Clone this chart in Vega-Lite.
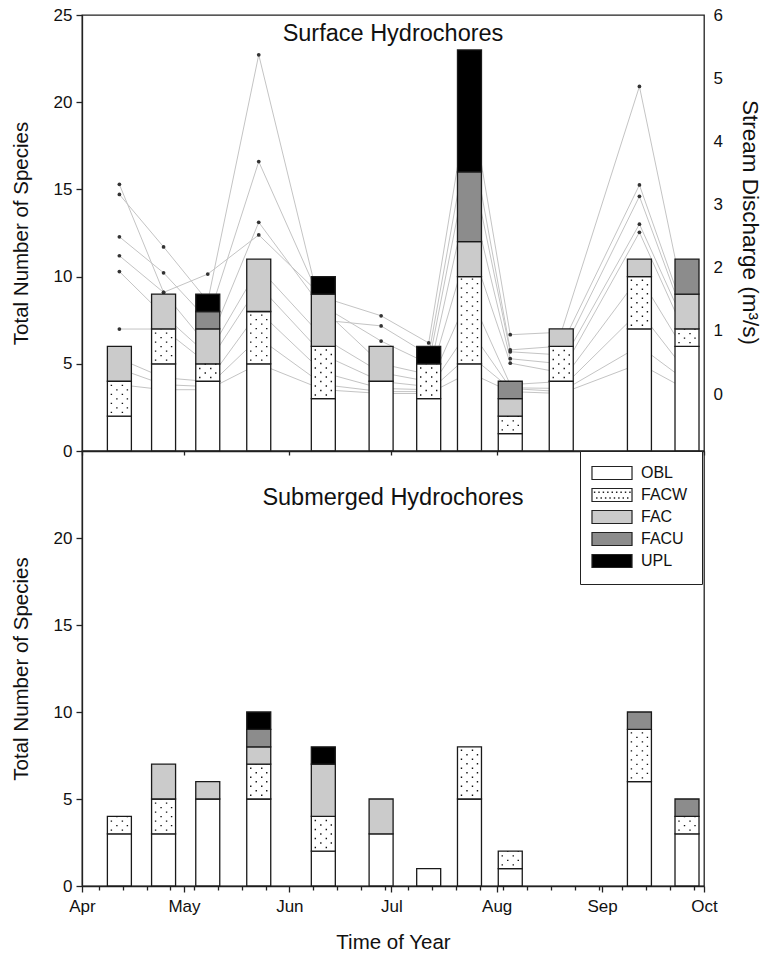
{
  "$schema": "https://vega.github.io/schema/vega-lite/v6.json",
  "padding": {"left": 10, "top": 5, "right": 5, "bottom": 8},
  "bounds": "flush",
  "config": {
    "view": {"stroke": "#222", "strokeWidth": 1.3},
    "font": "Liberation Sans",
    "axis": {"labelFont": "Liberation Sans", "titleFont": "Liberation Sans", "labelFontSize": 17, "titleFontSize": 20.5, "titleFontWeight": "normal", "labelColor": "#111", "titleColor": "#111", "domainColor": "#222", "tickColor": "#222", "grid": false, "domainWidth": 1.3, "tickWidth": 1.3, "labelOverlap": false}
  },
  "datasets": {
    "surface": [
      {"date":"2003/04/12","cls":"OBL","n":2},{"date":"2003/04/12","cls":"FACW","n":2},{"date":"2003/04/12","cls":"FAC","n":2},
      {"date":"2003/04/25","cls":"OBL","n":5},{"date":"2003/04/25","cls":"FACW","n":2},{"date":"2003/04/25","cls":"FAC","n":2},
      {"date":"2003/05/08","cls":"OBL","n":4},{"date":"2003/05/08","cls":"FACW","n":1},{"date":"2003/05/08","cls":"FAC","n":2},{"date":"2003/05/08","cls":"FACU","n":1},{"date":"2003/05/08","cls":"UPL","n":1},
      {"date":"2003/05/23","cls":"OBL","n":5},{"date":"2003/05/23","cls":"FACW","n":3},{"date":"2003/05/23","cls":"FAC","n":3},
      {"date":"2003/06/11","cls":"OBL","n":3},{"date":"2003/06/11","cls":"FACW","n":3},{"date":"2003/06/11","cls":"FAC","n":3},{"date":"2003/06/11","cls":"UPL","n":1},
      {"date":"2003/06/28","cls":"OBL","n":4},{"date":"2003/06/28","cls":"FAC","n":2},
      {"date":"2003/07/12","cls":"OBL","n":3},{"date":"2003/07/12","cls":"FACW","n":2},{"date":"2003/07/12","cls":"UPL","n":1},
      {"date":"2003/07/24","cls":"OBL","n":5},{"date":"2003/07/24","cls":"FACW","n":5},{"date":"2003/07/24","cls":"FAC","n":2},{"date":"2003/07/24","cls":"FACU","n":4},{"date":"2003/07/24","cls":"UPL","n":7},
      {"date":"2003/08/05","cls":"OBL","n":1},{"date":"2003/08/05","cls":"FACW","n":1},{"date":"2003/08/05","cls":"FAC","n":1},{"date":"2003/08/05","cls":"FACU","n":1},
      {"date":"2003/08/20","cls":"OBL","n":4},{"date":"2003/08/20","cls":"FACW","n":2},{"date":"2003/08/20","cls":"FAC","n":1},
      {"date":"2003/09/12","cls":"OBL","n":7},{"date":"2003/09/12","cls":"FACW","n":3},{"date":"2003/09/12","cls":"FAC","n":1},
      {"date":"2003/09/26","cls":"OBL","n":6},{"date":"2003/09/26","cls":"FACW","n":1},{"date":"2003/09/26","cls":"FAC","n":2},{"date":"2003/09/26","cls":"FACU","n":2}
    ],
    "submerged": [
      {"date":"2003/04/12","cls":"OBL","n":3},{"date":"2003/04/12","cls":"FACW","n":1},
      {"date":"2003/04/25","cls":"OBL","n":3},{"date":"2003/04/25","cls":"FACW","n":2},{"date":"2003/04/25","cls":"FAC","n":2},
      {"date":"2003/05/08","cls":"OBL","n":5},{"date":"2003/05/08","cls":"FAC","n":1},
      {"date":"2003/05/23","cls":"OBL","n":5},{"date":"2003/05/23","cls":"FACW","n":2},{"date":"2003/05/23","cls":"FAC","n":1},{"date":"2003/05/23","cls":"FACU","n":1},{"date":"2003/05/23","cls":"UPL","n":1},
      {"date":"2003/06/11","cls":"OBL","n":2},{"date":"2003/06/11","cls":"FACW","n":2},{"date":"2003/06/11","cls":"FAC","n":3},{"date":"2003/06/11","cls":"UPL","n":1},
      {"date":"2003/06/28","cls":"OBL","n":3},{"date":"2003/06/28","cls":"FAC","n":2},
      {"date":"2003/07/12","cls":"OBL","n":1},
      {"date":"2003/07/24","cls":"OBL","n":5},{"date":"2003/07/24","cls":"FACW","n":3},
      {"date":"2003/08/05","cls":"OBL","n":1},{"date":"2003/08/05","cls":"FACW","n":1},
      {"date":"2003/09/12","cls":"OBL","n":6},{"date":"2003/09/12","cls":"FACW","n":3},{"date":"2003/09/12","cls":"FACU","n":1},
      {"date":"2003/09/26","cls":"OBL","n":3},{"date":"2003/09/26","cls":"FACW","n":1},{"date":"2003/09/26","cls":"FACU","n":1}
    ],
    "discharge": [
      {"date":"2003/04/12","site":"s1","q":3.32},{"date":"2003/04/25","site":"s1","q":1.61},{"date":"2003/05/08","site":"s1","q":1.90},{"date":"2003/05/23","site":"s1","q":2.52},{"date":"2003/06/11","site":"s1","q":1.53},{"date":"2003/06/28","site":"s1","q":1.24},{"date":"2003/07/12","site":"s1","q":0.81},{"date":"2003/07/24","site":"s1","q":4.76},{"date":"2003/08/05","site":"s1","q":0.94},{"date":"2003/08/20","site":"s1","q":0.98},{"date":"2003/09/12","site":"s1","q":4.87},{"date":"2003/09/26","site":"s1","q":1.25},
      {"date":"2003/04/12","site":"s2","q":3.16},{"date":"2003/04/25","site":"s2","q":2.33},{"date":"2003/05/08","site":"s2","q":1.47},{"date":"2003/05/23","site":"s2","q":5.37},{"date":"2003/06/11","site":"s2","q":1.17},{"date":"2003/06/28","site":"s2","q":1.08},{"date":"2003/07/12","site":"s2","q":0.62},{"date":"2003/07/24","site":"s2","q":4.21},{"date":"2003/08/05","site":"s2","q":0.70},{"date":"2003/08/20","site":"s2","q":0.76},{"date":"2003/09/12","site":"s2","q":3.31},{"date":"2003/09/26","site":"s2","q":1.17},
      {"date":"2003/04/12","site":"s3","q":2.49},{"date":"2003/04/25","site":"s3","q":1.92},{"date":"2003/05/08","site":"s3","q":1.17},{"date":"2003/05/23","site":"s3","q":3.68},{"date":"2003/06/11","site":"s3","q":1.39},{"date":"2003/06/28","site":"s3","q":0.84},{"date":"2003/07/12","site":"s3","q":0.48},{"date":"2003/07/24","site":"s3","q":3.79},{"date":"2003/08/05","site":"s3","q":0.67},{"date":"2003/08/20","site":"s3","q":0.62},{"date":"2003/09/12","site":"s3","q":3.13},{"date":"2003/09/26","site":"s3","q":1.09},
      {"date":"2003/04/12","site":"s4","q":2.19},{"date":"2003/04/25","site":"s4","q":1.61},{"date":"2003/05/08","site":"s4","q":0.76},{"date":"2003/05/23","site":"s4","q":2.72},{"date":"2003/06/11","site":"s4","q":1.34},{"date":"2003/06/28","site":"s4","q":0.48},{"date":"2003/07/12","site":"s4","q":0.31},{"date":"2003/07/24","site":"s4","q":3.24},{"date":"2003/08/05","site":"s4","q":0.56},{"date":"2003/08/20","site":"s4","q":0.48},{"date":"2003/09/12","site":"s4","q":2.69},{"date":"2003/09/26","site":"s4","q":1.03},
      {"date":"2003/04/12","site":"s5","q":1.94},{"date":"2003/04/25","site":"s5","q":1.25},{"date":"2003/05/08","site":"s5","q":0.62},{"date":"2003/05/23","site":"s5","q":2.00},{"date":"2003/06/11","site":"s5","q":0.89},{"date":"2003/06/28","site":"s5","q":0.34},{"date":"2003/07/12","site":"s5","q":0.20},{"date":"2003/07/24","site":"s5","q":2.41},{"date":"2003/08/05","site":"s5","q":0.49},{"date":"2003/08/20","site":"s5","q":0.34},{"date":"2003/09/12","site":"s5","q":2.56},{"date":"2003/09/26","site":"s5","q":0.89},
      {"date":"2003/04/12","site":"s6","q":1.03},{"date":"2003/04/25","site":"s6","q":1.03},{"date":"2003/05/08","site":"s6","q":0.48},{"date":"2003/05/23","site":"s6","q":1.72},{"date":"2003/06/11","site":"s6","q":0.62},{"date":"2003/06/28","site":"s6","q":0.20},{"date":"2003/07/12","site":"s6","q":0.12},{"date":"2003/07/24","site":"s6","q":1.58},{"date":"2003/08/05","site":"s6","q":0.15},{"date":"2003/08/20","site":"s6","q":0.20},{"date":"2003/09/12","site":"s6","q":1.86},{"date":"2003/09/26","site":"s6","q":0.62},
      {"date":"2003/04/12","site":"s7","q":0.56},{"date":"2003/04/25","site":"s7","q":0.26},{"date":"2003/05/08","site":"s7","q":0.20},{"date":"2003/05/23","site":"s7","q":1.31},{"date":"2003/06/11","site":"s7","q":0.34},{"date":"2003/06/28","site":"s7","q":0.09},{"date":"2003/07/12","site":"s7","q":0.07},{"date":"2003/07/24","site":"s7","q":1.03},{"date":"2003/08/05","site":"s7","q":0.10},{"date":"2003/08/20","site":"s7","q":0.09},{"date":"2003/09/12","site":"s7","q":1.31},{"date":"2003/09/26","site":"s7","q":0.34},
      {"date":"2003/04/12","site":"s8","q":0.40},{"date":"2003/04/25","site":"s8","q":0.15},{"date":"2003/05/08","site":"s8","q":0.12},{"date":"2003/05/23","site":"s8","q":0.89},{"date":"2003/06/11","site":"s8","q":0.15},{"date":"2003/06/28","site":"s8","q":0.04},{"date":"2003/07/12","site":"s8","q":0.04},{"date":"2003/07/24","site":"s8","q":0.62},{"date":"2003/08/05","site":"s8","q":0.09},{"date":"2003/08/20","site":"s8","q":0.04},{"date":"2003/09/12","site":"s8","q":0.76},{"date":"2003/09/26","site":"s8","q":0.20},
      {"date":"2003/04/12","site":"s9","q":0.15},{"date":"2003/04/25","site":"s9","q":0.07},{"date":"2003/05/08","site":"s9","q":0.07},{"date":"2003/05/23","site":"s9","q":0.48},{"date":"2003/06/11","site":"s9","q":0.07},{"date":"2003/06/28","site":"s9","q":0.01},{"date":"2003/07/12","site":"s9","q":0.01},{"date":"2003/07/24","site":"s9","q":0.34},{"date":"2003/08/05","site":"s9","q":0.04},{"date":"2003/08/20","site":"s9","q":0.01},{"date":"2003/09/12","site":"s9","q":0.48},{"date":"2003/09/26","site":"s9","q":0.07}
    ]
  },
  "spacing": 0,
  "resolve": {"scale": {"fill": "independent", "shape": "independent"}},
  "vconcat": [
    {
      "width": 622,
      "height": 436,
      "title": {"text": "Surface Hydrochores", "offset": -39, "fontSize": 23.5, "fontWeight": "normal", "anchor": "middle", "color": "#111", "font": "Liberation Sans"},
      "resolve": {"scale": {"y": "independent"}},
      "encoding": {
        "x": {"field": "date", "type": "temporal",
          "scale": {"domain": [{"year": 2003, "month": 4, "date": 1}, {"year": 2003, "month": 10, "date": 1}], "padding": 0},
          "axis": {"orient": "bottom", "title": null, "labels": false, "tickSize": 4,
            "values": [{"year": 2003, "month": 4, "date": 1}, {"year": 2003, "month": 5, "date": 1}, {"year": 2003, "month": 6, "date": 1}, {"year": 2003, "month": 7, "date": 1}, {"year": 2003, "month": 8, "date": 1}, {"year": 2003, "month": 9, "date": 1}, {"year": 2003, "month": 10, "date": 1}]}}
      },
      "layer": [
        {
          "data": {"name": "discharge"},
          "encoding": {
            "y": {"field": "q", "type": "quantitative",
              "scale": {"domain": [-0.9, 6], "nice": false, "zero": false},
              "axis": {"orient": "right", "title": "Stream Discharge (m³/s)", "titleFontSize": 22.5, "format": "d", "values": [0, 1, 2, 3, 4, 5, 6], "ticks": false, "domain": false, "labelPadding": 9, "titlePadding": 15, "titleY": 207}}
          },
          "layer": [
            {
              "mark": {"type": "line", "color": "#c4c4c4", "strokeWidth": 1},
              "encoding": {"detail": {"field": "site"}}
            },
            {
              "mark": {"type": "point", "filled": true, "color": "#333", "size": 14, "opacity": 1}
            }
          ]
        },
        {
          "data": {"name": "surface"},
          "transform": [{"stack": "n", "groupby": ["date"], "as": ["n0", "n1"]}],
          "encoding": {
            "y": {"field": "n0", "type": "quantitative", "scale": {"domain": [0, 25], "nice": false},
              "axis": {"orient": "left", "title": "Total Number of Species", "values": [0, 5, 10, 15, 20, 25], "tickSize": 6, "labelPadding": 4, "titlePadding": 22}},
            "y2": {"field": "n1"}
          },
          "layer": [
            {
              "mark": {"type": "bar", "size": 24, "stroke": "#1a1a1a", "strokeWidth": 1.3},
              "encoding": {
                "fill": {"field": "cls", "type": "nominal", "legend": null,
                  "scale": {"domain": ["OBL", "FACW", "FAC", "FACU", "UPL"], "range": ["#ffffff", "#ffffff", "#cbcbcb", "#8c8c8c", "#000000"]}}
              }
            },
            {"transform": [{"filter": "datum.cls == 'FACW'"}], "mark": {"type": "rule", "color": "#111", "strokeWidth": 1.4, "strokeDash": [1.4, 7.6], "strokeDashOffset": -3, "xOffset": -8}},
            {"transform": [{"filter": "datum.cls == 'FACW'"}], "mark": {"type": "rule", "color": "#111", "strokeWidth": 1.4, "strokeDash": [1.4, 7.6], "strokeDashOffset": -7.5, "xOffset": -2.5}},
            {"transform": [{"filter": "datum.cls == 'FACW'"}], "mark": {"type": "rule", "color": "#111", "strokeWidth": 1.4, "strokeDash": [1.4, 7.6], "strokeDashOffset": -3, "xOffset": 3}},
            {"transform": [{"filter": "datum.cls == 'FACW'"}], "mark": {"type": "rule", "color": "#111", "strokeWidth": 1.4, "strokeDash": [1.4, 7.6], "strokeDashOffset": -7.5, "xOffset": 8}}
          ]
        }
      ]
    },
    {
      "width": 622,
      "height": 435,
      "title": {"text": "Submerged Hydrochores", "offset": -59, "fontSize": 23.5, "fontWeight": "normal", "anchor": "middle", "color": "#111", "font": "Liberation Sans"},
      "data": {"name": "submerged"},
      "transform": [{"stack": "n", "groupby": ["date"], "as": ["n0", "n1"]}],
      "encoding": {
        "x": {"field": "date", "type": "temporal",
          "scale": {"domain": [{"year": 2003, "month": 4, "date": 1}, {"year": 2003, "month": 10, "date": 1}], "padding": 0},
          "axis": {"orient": "bottom", "title": "Time of Year", "titlePadding": 18, "labelPadding": 6, "labelFlush": false, "labelOverlap": false, "format": "%b",
            "labelExpr": "date(datum.value) == 1 ? datum.label : ''",
            "tickSize": {"condition": {"test": "date(datum.value) == 1", "value": 6}, "value": 4},
            "values": [
              {"year": 2003, "month": 4, "date": 1}, {"year": 2003, "month": 4, "date": 6}, {"year": 2003, "month": 4, "date": 13}, {"year": 2003, "month": 4, "date": 20}, {"year": 2003, "month": 4, "date": 27},
              {"year": 2003, "month": 5, "date": 1}, {"year": 2003, "month": 5, "date": 4}, {"year": 2003, "month": 5, "date": 11}, {"year": 2003, "month": 5, "date": 18}, {"year": 2003, "month": 5, "date": 25},
              {"year": 2003, "month": 6, "date": 1}, {"year": 2003, "month": 6, "date": 8}, {"year": 2003, "month": 6, "date": 15}, {"year": 2003, "month": 6, "date": 22}, {"year": 2003, "month": 6, "date": 29},
              {"year": 2003, "month": 7, "date": 1}, {"year": 2003, "month": 7, "date": 6}, {"year": 2003, "month": 7, "date": 13}, {"year": 2003, "month": 7, "date": 20}, {"year": 2003, "month": 7, "date": 27},
              {"year": 2003, "month": 8, "date": 1}, {"year": 2003, "month": 8, "date": 3}, {"year": 2003, "month": 8, "date": 10}, {"year": 2003, "month": 8, "date": 17}, {"year": 2003, "month": 8, "date": 24}, {"year": 2003, "month": 8, "date": 31},
              {"year": 2003, "month": 9, "date": 1}, {"year": 2003, "month": 9, "date": 7}, {"year": 2003, "month": 9, "date": 14}, {"year": 2003, "month": 9, "date": 21}, {"year": 2003, "month": 9, "date": 28},
              {"year": 2003, "month": 10, "date": 1}
            ]}},
        "y": {"field": "n0", "type": "quantitative", "scale": {"domain": [0, 25], "nice": false},
          "axis": {"orient": "left", "title": "Total Number of Species", "values": [0, 5, 10, 15, 20], "tickSize": 6, "labelPadding": 4, "titlePadding": 22}},
        "y2": {"field": "n1"}
      },
      "layer": [
        {
          "mark": {"type": "bar", "size": 24, "stroke": "#1a1a1a", "strokeWidth": 1.3},
          "encoding": {
            "fill": {"field": "cls", "type": "nominal",
              "scale": {"domain": ["OBL", "FACW", "FAC", "FACU", "UPL"], "range": ["#ffffff", "#ffffff", "#cbcbcb", "#8c8c8c", "#000000"]},
              "legend": {"orient": "none", "legendX": 498, "legendY": 0, "title": null, "strokeColor": "#222", "fillColor": "#ffffff", "padding": 14, "labelFontSize": 16, "labelFont": "Liberation Sans", "labelColor": "#111", "labelOffset": 21, "symbolOffset": 10, "rowPadding": 4, "symbolSize": 169, "symbolStrokeColor": "#222", "symbolStrokeWidth": 1.2}}
          }
        },
        {"transform": [{"filter": "datum.cls == 'FACW'"}], "mark": {"type": "rule", "color": "#111", "strokeWidth": 1.4, "strokeDash": [1.4, 7.6], "strokeDashOffset": -3, "xOffset": -8}},
        {"transform": [{"filter": "datum.cls == 'FACW'"}], "mark": {"type": "rule", "color": "#111", "strokeWidth": 1.4, "strokeDash": [1.4, 7.6], "strokeDashOffset": -7.5, "xOffset": -2.5}},
        {"transform": [{"filter": "datum.cls == 'FACW'"}], "mark": {"type": "rule", "color": "#111", "strokeWidth": 1.4, "strokeDash": [1.4, 7.6], "strokeDashOffset": -3, "xOffset": 3}},
        {"transform": [{"filter": "datum.cls == 'FACW'"}], "mark": {"type": "rule", "color": "#111", "strokeWidth": 1.4, "strokeDash": [1.4, 7.6], "strokeDashOffset": -7.5, "xOffset": 8}},
        {
          "transform": [{"filter": "datum.n < 0"}],
          "mark": {"type": "point", "filled": true, "stroke": "#222", "strokeWidth": 1.2, "opacity": 1},
          "encoding": {
            "y2": null,
            "fill": {"field": "cls", "type": "nominal",
              "scale": {"domain": ["OBL", "FACW", "FAC", "FACU", "UPL"], "range": ["#ffffff", "#ffffff", "#cbcbcb", "#8c8c8c", "#000000"]},
              "legend": {"orient": "none", "legendX": 498, "legendY": 0, "title": null, "strokeColor": "#222", "fillColor": "#ffffff", "padding": 14, "labelFontSize": 16, "labelFont": "Liberation Sans", "labelColor": "#111", "labelOffset": 21, "symbolOffset": 10, "rowPadding": 4, "symbolSize": 169, "symbolStrokeColor": "#222", "symbolStrokeWidth": 1.2}},
            "shape": {"field": "cls", "type": "nominal",
              "scale": {"domain": ["OBL", "FACW", "FAC", "FACU", "UPL"], "range": [
                "M-3.08,-1H3.08V1H-3.08Z",
                "M-3.08,-1H3.08V1H-3.08ZM-2.7,-0.45h0.04v0.04h-0.04ZM-2.02,-0.45h0.04v0.04h-0.04ZM-1.34,-0.45h0.04v0.04h-0.04ZM-0.66,-0.45h0.04v0.04h-0.04ZM0.02,-0.45h0.04v0.04h-0.04ZM0.7,-0.45h0.04v0.04h-0.04ZM1.38,-0.45h0.04v0.04h-0.04ZM2.06,-0.45h0.04v0.04h-0.04ZM2.74,-0.45h0.04v0.04h-0.04ZM-2.36,0.45h0.04v0.04h-0.04ZM-1.68,0.45h0.04v0.04h-0.04ZM-1,0.45h0.04v0.04h-0.04ZM-0.32,0.45h0.04v0.04h-0.04ZM0.36,0.45h0.04v0.04h-0.04ZM1.04,0.45h0.04v0.04h-0.04ZM1.72,0.45h0.04v0.04h-0.04ZM2.4,0.45h0.04v0.04h-0.04Z",
                "M-3.08,-1H3.08V1H-3.08Z",
                "M-3.08,-1H3.08V1H-3.08Z",
                "M-3.08,-1H3.08V1H-3.08Z"]},
              "legend": {"orient": "none", "legendX": 498, "legendY": 0, "title": null, "strokeColor": "#222", "fillColor": "#ffffff", "padding": 14, "labelFontSize": 16, "labelFont": "Liberation Sans", "labelColor": "#111", "labelOffset": 21, "symbolOffset": 10, "rowPadding": 4, "symbolSize": 169, "symbolStrokeColor": "#222", "symbolStrokeWidth": 1.2}}
          }
        }
      ]
    }
  ]
}
